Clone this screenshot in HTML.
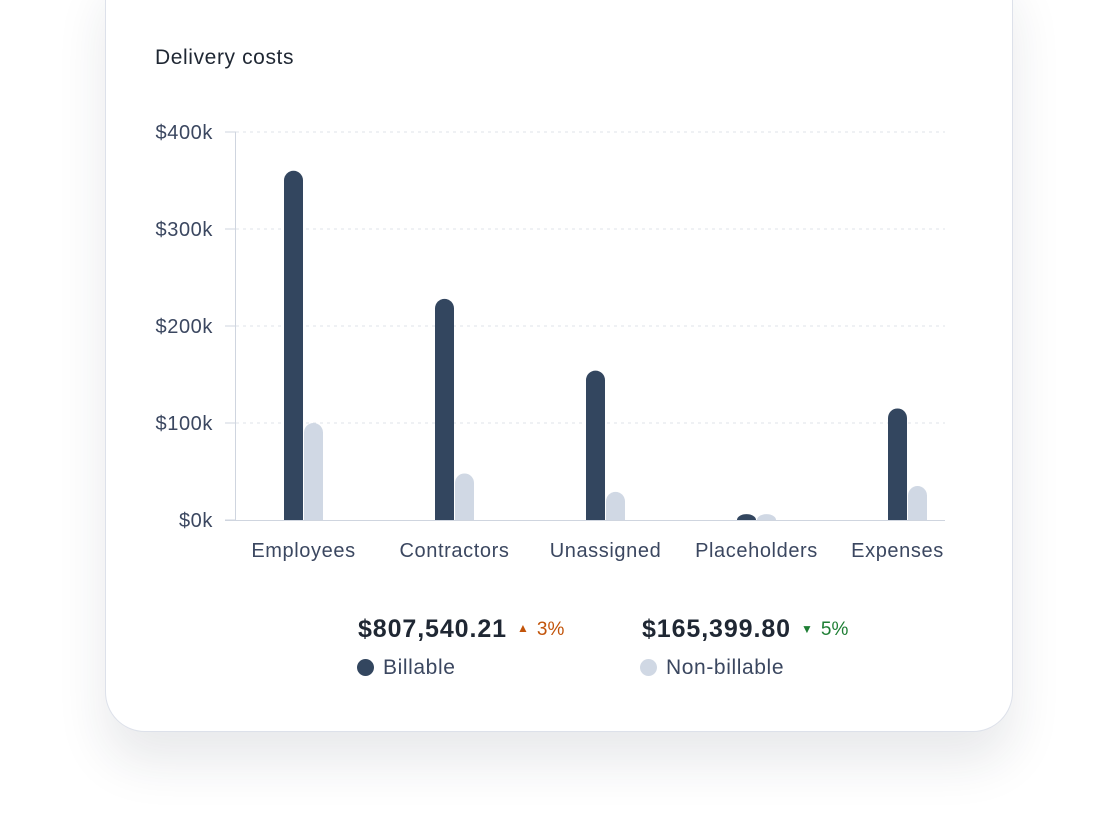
<!DOCTYPE html>
<html><head><meta charset="utf-8"><style>
html,body{margin:0;padding:0;width:1120px;height:840px;background:#fff;overflow:hidden;font-family:"Liberation Sans",sans-serif;}
#card{position:absolute;left:105px;top:-40px;width:906px;height:770px;border:1px solid #dde1ea;border-radius:40px;background:#fff;box-shadow:0 30px 50px rgba(30,40,60,0.10);}
#title{position:absolute;left:155px;top:46px;font-size:21px;letter-spacing:0.6px;color:#1f2733;}
.leg{position:absolute;font-size:21px;letter-spacing:0.6px;color:#3b4760;}
.amt{position:absolute;font-size:25px;letter-spacing:0.9px;font-weight:bold;color:#1f2733;}
</style></head><body>
<div id="card"></div>
<div id="title">Delivery costs</div>
<svg id="chart" width="1120" height="840" style="position:absolute;left:0;top:0"></svg>
<div class="amt" style="left:358px;top:615px">$807,540.21</div>
<div style="position:absolute;left:517px;top:619px;font-size:19px;color:#c2540a"><span style="font-size:12px;position:relative;top:-3px;margin-right:8px">&#9650;</span>3%</div>
<div class="amt" style="left:642px;top:615px">$165,399.80</div>
<div style="position:absolute;left:801px;top:619px;font-size:19px;color:#1e7e34"><span style="font-size:12px;position:relative;top:-2px;margin-right:8px">&#9660;</span>5%</div>
<div class="leg" style="left:357px;top:656px"><span style="display:inline-block;width:17px;height:17px;border-radius:50%;background:#33465f;vertical-align:-2px;margin-right:9px"></span>Billable</div>
<div class="leg" style="left:640px;top:656px"><span style="display:inline-block;width:17px;height:17px;border-radius:50%;background:#d0d8e4;vertical-align:-2px;margin-right:9px"></span>Non-billable</div>
<script>
const categories=["Employees","Contractors","Unassigned","Placeholders","Expenses"];
const billable=[360,228,154,6,115];
const nonBillable=[100,48,29,6,35];
const yTicks=[0,100,200,300,400];
const yTickLabels=["$0k","$100k","$200k","$300k","$400k"];
const NS="http://www.w3.org/2000/svg";
const svg=document.getElementById('chart');
const y0=520,y1=132,yMax=400;
const y=v=>y0-(v/yMax)*(y0-y1);
const step=151,x0=228;
const xc=i=>x0+step*(i+0.5);
function mk(t,a){const e=document.createElementNS(NS,t);for(const k in a)e.setAttribute(k,a[k]);svg.appendChild(e);return e;}
yTicks.forEach((t,i)=>{
 const yy=y(t);
 if(t>0){const g=mk('line',{x1:236,x2:945,y1:yy,y2:yy,stroke:'#dfe3ea','stroke-dasharray':'3,4'});
 
 }
 const tk=mk('line',{x1:225,x2:236,y1:yy,y2:yy,stroke:'#cfd5df'});
 
 
 const tx=mk('text',{x:213,y:yy+7,'text-anchor':'end','font-size':20,'letter-spacing':0.6,fill:'#3b4760','font-family':'Liberation Sans, sans-serif'});
 tx.textContent=yTickLabels[i];
 
 
});
const ax=mk('line',{x1:235.5,x2:235.5,y1:y1,y2:y0,stroke:'#cfd5df'});


const bw=19;
function bar(xl,v,color,name){
 const top=y(v),h=y0-top,r=Math.min(bw/2,h);
 const p=mk('path',{d:`M${xl},${y0} L${xl},${top+r} A${bw/2},${r} 0 0 1 ${xl+bw},${top+r} L${xl+bw},${y0} Z`,fill:color});
 
 
}
categories.forEach((c,i)=>{
 const cx=xc(i);
 bar(cx-bw-0.5,billable[i],'#33465f','bar-billable-'+c.toLowerCase());
 bar(cx+0.5,nonBillable[i],'#d0d8e4','bar-non-billable-'+c.toLowerCase());
 const t=mk('text',{x:cx-(i===4?10:0),y:557,'text-anchor':'middle','font-size':20,'letter-spacing':0.6,fill:'#3b4760','font-family':'Liberation Sans, sans-serif'});
 t.textContent=c;
 
 
});
const base=mk('line',{x1:225,x2:945,y1:y0+0.5,y2:y0+0.5,stroke:'#cfd5df'});


</script>
</body></html>
